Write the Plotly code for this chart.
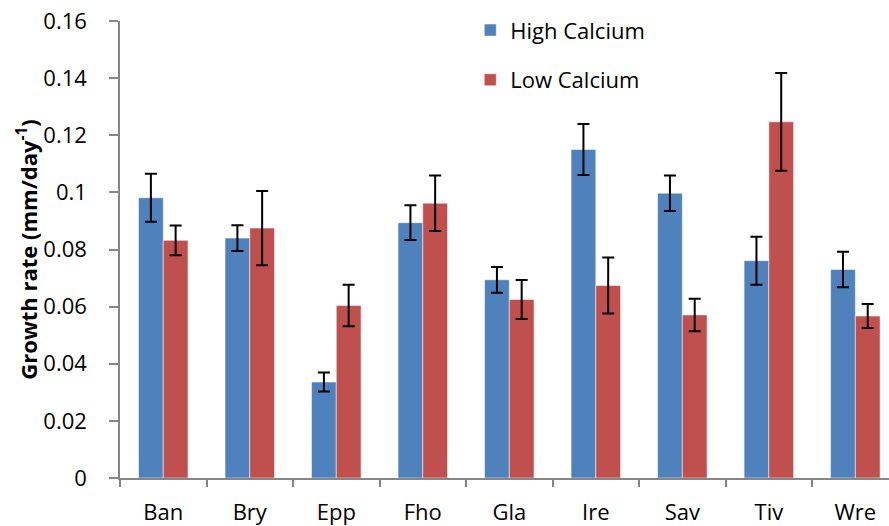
import plotly.graph_objects as go

categories = ["Ban", "Bry", "Epp", "Fho", "Gla", "Ire", "Sav", "Tiv", "Wre"]
high_calcium = [0.0981, 0.0840, 0.0336, 0.0894, 0.0694, 0.1150, 0.0997, 0.0761, 0.0730]
high_err = [0.0084, 0.0045, 0.0033, 0.0061, 0.0045, 0.0089, 0.0062, 0.0084, 0.0062]
low_calcium = [0.0832, 0.0875, 0.0604, 0.0962, 0.0625, 0.0674, 0.0571, 0.1247, 0.0567]
low_err = [0.0052, 0.0130, 0.0073, 0.0097, 0.0068, 0.0098, 0.0057, 0.0171, 0.0042]
y_tick_vals = [0, 0.02, 0.04, 0.06, 0.08, 0.1, 0.12, 0.14, 0.16]
y_tick_text = ["0", "0.02", "0.04", "0.06", "0.08", "0.1", "0.12", "0.14", "0.16"]

FONT = "Open Sans"
AXIS_COLOR = "#868686"

fig = go.Figure()
fig.add_trace(go.Bar(
    x=categories, y=high_calcium, name="High Calcium", legendgroup="h",
    marker=dict(color="#4F81BD", line=dict(color="rgba(255,255,255,0.5)", width=1)),
    error_y=dict(type="data", array=high_err, visible=True, color="black", thickness=2, width=6),
))
fig.add_trace(go.Bar(
    x=categories, y=low_calcium, name="Low Calcium", legendgroup="l",
    marker=dict(color="#C0504D", line=dict(color="rgba(255,255,255,0.5)", width=1)),
    error_y=dict(type="data", array=low_err, visible=True, color="black", thickness=2, width=6),
))

fig.update_layout(
    width=889, height=526,
    margin=dict(l=120, r=0, t=21, b=46),
    paper_bgcolor="white", plot_bgcolor="white",
    barmode="group", bargap=0.428, bargroupgap=0,
    font=dict(family=FONT, size=21, color="black"),
    showlegend=True,
    legend=dict(x=0.4555, y=1.0256, xanchor="left", yanchor="top",
                font=dict(family=FONT, size=22, color="black"),
                tracegroupgap=18, bgcolor="rgba(0,0,0,0)", itemwidth=30),
    xaxis=dict(
        type="category", range=[-0.5, 8.389],
        showline=True, linecolor=AXIS_COLOR, linewidth=1.5,
        ticks="outside", tickson="boundaries", ticklen=7, tickcolor=AXIS_COLOR, tickwidth=1.5,
        tickfont=dict(family=FONT, size=22, color="black"),
        ticklabelstandoff=14,
        showgrid=False, zeroline=False,
    ),
    yaxis=dict(
        range=[0, 0.16], tickvals=y_tick_vals, ticktext=y_tick_text,
        showline=True, linecolor=AXIS_COLOR, linewidth=1.5,
        ticks="outside", ticklen=9, tickcolor=AXIS_COLOR, tickwidth=1.5,
        tickfont=dict(family=FONT, size=22, color="black"),
        ticklabelstandoff=18,
        showgrid=False, zeroline=False,
        title=dict(text="<b>Growth rate (mm/day<sup>-1</sup>)</b>",
                   font=dict(family=FONT, size=22, color="black"), standoff=0),
    ),
)

fig.write_html("out.html")
